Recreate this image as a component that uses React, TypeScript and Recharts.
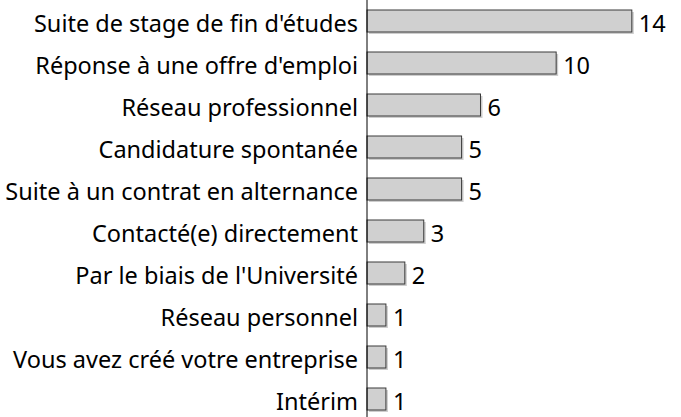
import { BarChart, Bar, XAxis, YAxis, LabelList } from 'recharts';

const categories = [
  'Suite de stage de fin d\'études',
  'Réponse à une offre d\'emploi',
  'Réseau professionnel',
  'Candidature spontanée',
  'Suite à un contrat en alternance',
  'Contacté(e) directement',
  'Par le biais de l\'Université',
  'Réseau personnel',
  'Vous avez créé votre entreprise',
  'Intérim',
];
const counts = [14, 10, 6, 5, 5, 3, 2, 1, 1, 1];

const data = categories.map((name, i) => ({ name, value: counts[i] }));

const FONT = '"Noto Sans", sans-serif';

const ShadowBar = (props: any) => {
  const { x, y, width, height } = props;
  if (!width || width <= 0) return null;
  return (
    <g>
      <rect x={x + 2} y={y + 2} width={width} height={height} fill="#cdcdcd" />
      <rect x={x} y={y} width={width} height={height} fill="#d0d0d0" stroke="#3a3a3a" strokeWidth={1} />
    </g>
  );
};

export default function App() {
  return (
    <div style={{ position: 'absolute', left: 0, top: 0, width: 681, height: 417, overflow: 'hidden', background: '#fff' }}>
      <BarChart
        width={681}
        height={420}
        data={data}
        layout="vertical"
        margin={{ top: 0, right: 0, left: 0, bottom: 0 }}
      >
        <XAxis type="number" hide domain={[0, 16.6]} />
        <YAxis
          type="category"
          dataKey="name"
          width={367}
          axisLine={{ stroke: '#000', strokeWidth: 1 }}
          tickLine={false}
          tickMargin={3}
          tick={{ fontSize: 23.5, fill: '#000', fontFamily: FONT, dy: 3 }}
          interval={0}
        />
        <Bar dataKey="value" barSize={22} shape={<ShadowBar />} isAnimationActive={false}>
          <LabelList
            dataKey="value"
            position="right"
            offset={7}
            style={{ fontSize: 23.5, fill: '#000', fontFamily: FONT }}
            dy={3}
          />
        </Bar>
      </BarChart>
    </div>
  );
}
